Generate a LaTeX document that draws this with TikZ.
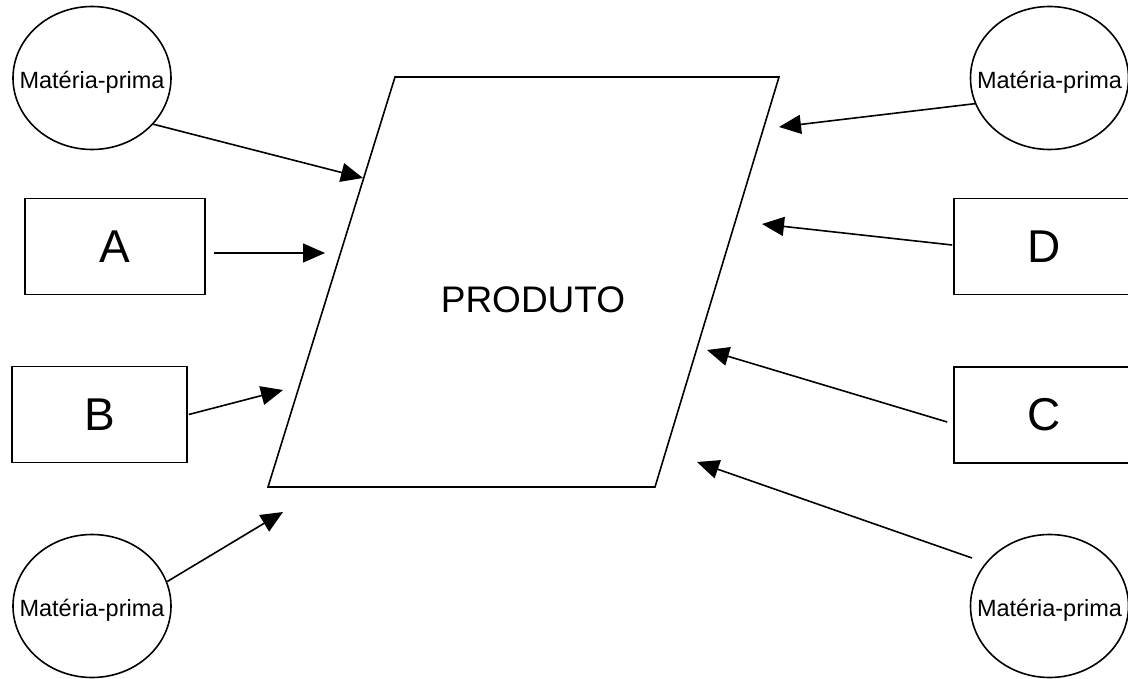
\documentclass[tikz,border=0pt]{standalone}
\usepackage{fontspec}
\setmainfont{Liberation Sans}
\usetikzlibrary{shapes.geometric,arrows.meta}
\begin{document}
\begin{tikzpicture}[x=1pt,y=-1pt,
  line width=1.6pt,
  mp/.style={draw,ellipse,inner sep=0pt,minimum width=158pt,minimum height=143pt,
    label={[font=\fontsize{23.5}{26}\selectfont,yshift=-4pt]center:Matéria-prima}},
  box/.style={draw,rectangle,inner sep=0pt,minimum height=96pt,font=\fontsize{46}{50}\selectfont},
  arr/.style={-{Triangle[length=22pt,width=19pt]}}]
\clip (0,0) rectangle (1128,679);
\fill[white] (0,0) rectangle (1128,679);
% parallelogram
\draw (395,77) -- (779,77) -- (655,487) -- (268,487) -- cycle;
\node[font=\fontsize{37}{40}\selectfont] (prod) at (533,300) {PRODUTO};
% left side
\node[mp] (c1) at (92,78) {};
\node[box,minimum width=180pt] (A) at (115,246.5) {A};
\node[box,minimum width=175pt] (B) at (99.5,414.5) {B};
\node[mp] (c3) at (92,606) {};
% right side
\node[mp] (c2) at (1049.5,78) {};
\node[box,minimum width=180pt] (D) at (1044,246.5) {D};
\node[box,minimum width=180pt] (C) at (1044,415) {C};
\node[mp] (c4) at (1049.5,606) {};
% arrow ends on the product
\coordinate (t1) at (363,178);
\coordinate (t2) at (325,253);
\coordinate (t3) at (283,390);
\coordinate (t4) at (283,512);
\coordinate (t5) at (779,127);
\coordinate (t6) at (762,224);
\coordinate (t7) at (707,350);
\coordinate (t8) at (697,462);
\coordinate (s8) at (972,558);
% connectors
\draw[arr] (c1.-37) -- (t1);
\draw[arr] ([xshift=8pt,yshift=-6.5pt]A.east) -- (t2);
\draw[arr] ([xshift=1pt]B.east) -- (t3);
\draw[arr] (c3.18) -- (t4);
\draw[arr] (c2.199) -- (t5);
\draw[arr] ([xshift=-1pt,yshift=1.5pt]D.west) -- (t6);
\draw[arr] ([xshift=-6pt,yshift=-7pt]C.west) -- (t7);
\draw[arr] (s8) -- (t8);
\end{tikzpicture}
\end{document}
